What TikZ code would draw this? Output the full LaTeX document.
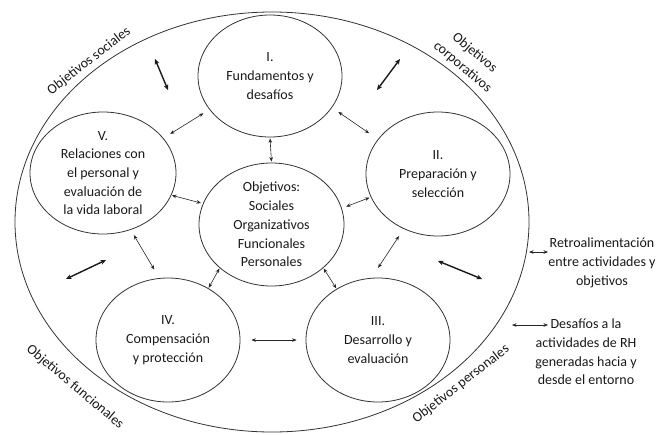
\documentclass[tikz,border=0pt]{standalone}
\usepackage{fontspec}
\setmainfont{Carlito}
\usetikzlibrary{arrows.meta,shapes.geometric}
\begin{document}
\begin{tikzpicture}[x=1pt,y=-1pt,
  lbl/.style={font=\fontsize{14}{18.7}\selectfont, align=center, inner sep=0pt, text=black!90},
  blob/.style={draw=black!80, line width=0.8pt, ellipse, minimum width=144pt, minimum height=122pt,
    inner sep=-14pt, align=center, font=\fontsize{14}{18.7}\selectfont, text=black!90},
  thinarrow/.style={<->, >={Stealth[length=4.5pt,width=3.6pt]}, line width=0.6pt, draw=black!85},
  bigarrow/.style={<->, >={Stealth[length=5.5pt,width=4.8pt]}, line width=1.4pt, draw=black!90},
]
\useasboundingbox (0,0) rectangle (668,434);

% outer ellipse
\node[draw=black!80, line width=0.8pt, ellipse, minimum width=514pt, minimum height=420pt, inner sep=0pt] (outer) at (272,222) {};

% inner ellipses
\node[blob] (I) at (270,76) {I.\\Fundamentos y\\desafíos};
\node[blob, minimum width=146pt] (V) at (103,173) {V.\\Relaciones con\\el personal y\\evaluación de\\la vida laboral};
\node[blob, minimum width=145pt, minimum height=123pt] (C) at (271.5,224.5) {Objetivos:\\Sociales\\Organizativos\\Funcionales\\Personales};
\node[blob, minimum height=124pt] (II) at (438,174) {II.\\Preparación y\\selección};
\node[blob, minimum height=124pt] (IV) at (168,340) {IV.\\Compensación\\y protección};
\node[blob, minimum height=124pt] (III) at (378,340) {III.\\Desarrollo y\\evaluación};

% rotated labels
\node[lbl, rotate=38] (os) at (89,61) {Objetivos sociales};
\node[lbl, rotate=-40] (oc) at (468.5,60) {Objetivos\\corporativos};
\node[lbl, rotate=-40] (of) at (75,387) {Objetivos funcionales};
\node[lbl, rotate=38] (op) at (461,384) {Objetivos personales};

% legend texts
\node[lbl] (R) at (602,263) {Retroalimentación\\entre actividades y\\objetivos};
\node[lbl] (D) at (586,352) {Desafíos a la\\actividades de RH\\generadas hacia y\\desde el entorno};

% thin arrows between ellipses
\draw[thinarrow, shorten <=8pt, shorten >=7pt] (V.30) -- (I.209);
\draw[thinarrow, shorten <=1pt, shorten >=1pt] (I.270) -- (C.90);
\draw[thinarrow, shorten <=0.5pt, shorten >=2pt] (V.-18.7) -- (C.163.8);
\draw[thinarrow, shorten <=7.6pt, shorten >=10.6pt] (I.-27.1) -- (II.150.7);
\draw[thinarrow, shorten <=4.6pt, shorten >=1.4pt] (C.13.2) -- (II.199.4);
\draw[thinarrow, shorten <=6.1pt, shorten >=9.9pt] (V.-64.9) -- (IV.98.9);
\draw[thinarrow, shorten <=0.5pt, shorten >=0.5pt] (IV.52.6) -- (C.220.5);
\draw[thinarrow, shorten <=0.5pt, shorten >=0.5pt] (C.-40.9) -- (III.129.8);
\draw[thinarrow, shorten <=8.4pt, shorten >=12pt] (II.238.7) -- (III.96);
\draw[thinarrow, shorten <=11pt, shorten >=9pt] (IV.east) -- (III.west);

% thick arrows toward the objectives
\coordinate (a1) at (155,59);  \coordinate (a2) at (168,90);
\coordinate (b1) at (400,59);  \coordinate (b2) at (377,90);
\coordinate (c1) at (66,279);  \coordinate (c2) at (106,260);
\coordinate (d1) at (438,261); \coordinate (d2) at (482,279);
\draw[bigarrow] (a1) -- (a2);
\draw[bigarrow] (b1) -- (b2);
\draw[bigarrow] (c1) -- (c2);
\draw[bigarrow] (d1) -- (d2);

% legend arrows
\coordinate (e1) at (529,252); \coordinate (e2) at (548,252);
\coordinate (f1) at (512,325); \coordinate (f2) at (548,325);
\draw[thinarrow] (e1) -- (e2);
\draw[thinarrow] (f1) -- (f2);
\end{tikzpicture}
\end{document}
